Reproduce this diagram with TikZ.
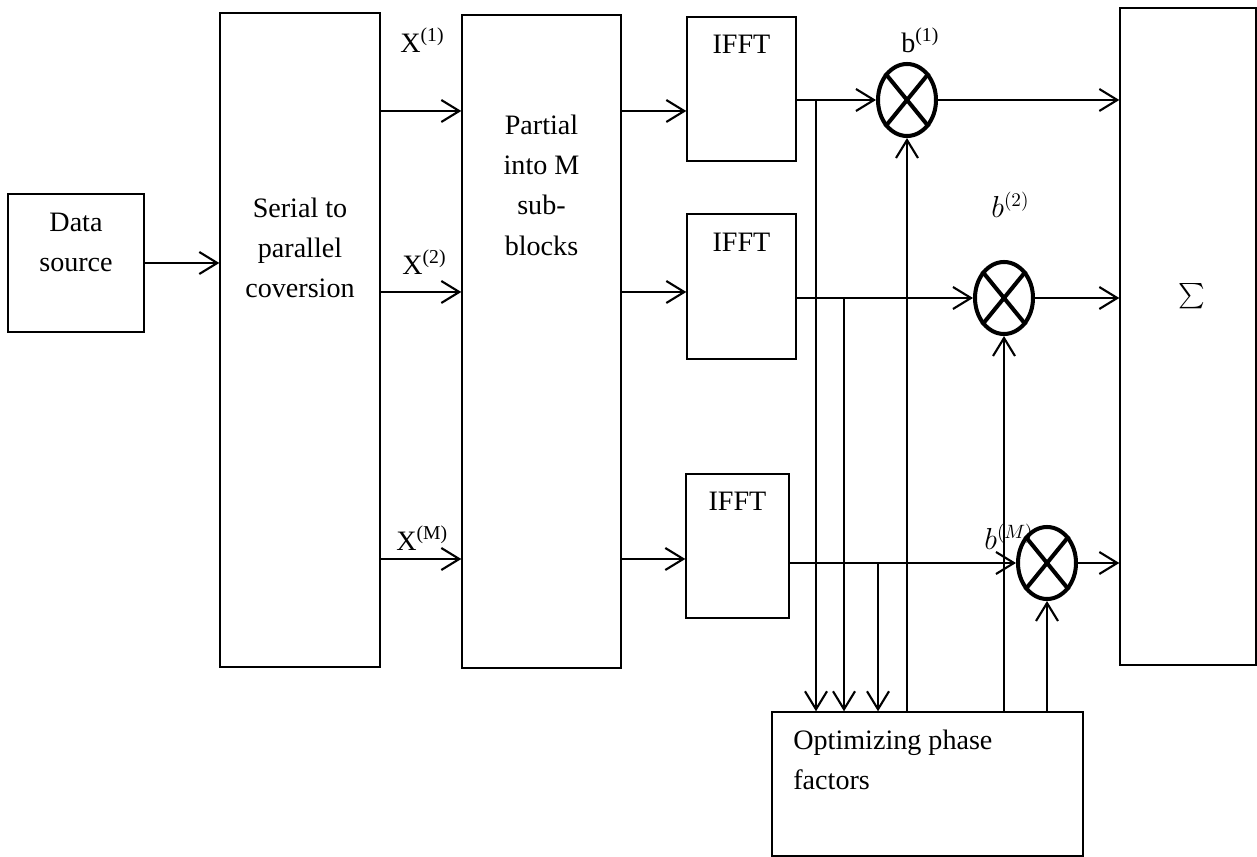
\documentclass[tikz,border=0pt]{standalone}
\usepackage{exscale}
\usepackage{fontspec}
\setmainfont{Liberation Serif}
\usetikzlibrary{arrows.meta,shapes.geometric}
\tikzset{
  blk/.style={draw, line width=0.8pt, inner sep=0pt},
  txt/.style={align=center, font=\fontsize{16}{22.8}\selectfont, inner sep=0pt},
  lbl/.style={font=\fontsize{16}{20}\selectfont, inner sep=0pt, anchor=base west},
  arr/.style={line width=1.2pt, -{Straight Barb[length=3.6mm,width=4.4mm,line width=1.2pt]}},
  mul/.style={ellipse, draw, line width=2.3pt, minimum width=1.16cm, minimum height=1.44cm, inner sep=0pt},
}
\begin{document}
\begin{tikzpicture}[x=0.02cm, y=-0.02cm]
\useasboundingbox (0,0) rectangle (1257,857);

% --- blocks ---
\node[blk, minimum width=2.72cm, minimum height=2.76cm] (ds) at (76,263) {};
\node[blk, minimum width=3.2cm, minimum height=13.08cm] (sp) at (300,340) {};
\node[blk, minimum width=3.18cm, minimum height=13.06cm] (pp) at (541.5,341.5) {};
\node[blk, minimum width=2.18cm, minimum height=2.88cm] (f1) at (741.5,89) {};
\node[blk, minimum width=2.18cm, minimum height=2.9cm] (f2) at (741.5,286.5) {};
\node[blk, minimum width=2.06cm, minimum height=2.88cm] (f3) at (737.5,546) {};
\node[blk, minimum width=6.22cm, minimum height=2.88cm] (op) at (927.5,784) {};
\node[blk, minimum width=2.72cm, minimum height=13.14cm] (sg) at (1188,336.5) {};

% texts in the blocks
\node[txt, anchor=north] at (76,213) {Data\\source};
\node[txt, anchor=north] at (300,198) {Serial to\\parallel\\coversion};
\node[txt, anchor=north] at (541.5,115) {Partial\\into M\\sub-\\blocks};
\node[txt, anchor=north] at (741.5,35) {IFFT};
\node[txt, anchor=north] at (741.5,233) {IFFT};
\node[txt, anchor=north] at (737.5,492) {IFFT};
\node[txt, anchor=north west, align=left] at (793,730) {Optimizing phase\\factors};
\node[txt, font=\fontsize{14}{14}\selectfont] at (1192,296) {$\sum$};

% --- multipliers ---
\foreach \n/\p in {m1/{907,100}, m2/{1004,298}, m3/{1047,563}}{
  \node[mul] (\n) at (\p) {};
  \draw[line width=2.3pt] (\n.north west) -- (\n.south east);
  \draw[line width=2.3pt] (\n.north east) -- (\n.south west);
}

% labels
\node[lbl] at (400,53) {X\textsuperscript{(1)}};
\node[lbl] at (402,275) {X\textsuperscript{(2)}};
\node[lbl] at (396,551) {X\textsuperscript{(M)}};
\node[lbl] at (901,53) {b\textsuperscript{(1)}};
\node[lbl] at (991,218) {$b^{(2)}$};
\node[lbl] at (984,550) {$b^{(M)}$};

% --- connectors ---
\coordinate (r1) at (0,111);
\coordinate (r2) at (0,292);
\coordinate (r3) at (0,559);
\draw[arr] (ds.east) -- (sp.west |- ds.east);
\foreach \r/\f in {r1/f1, r2/f2, r3/f3}{
  \draw[arr] (sp.east |- \r) -- (pp.west |- \r);
  \draw[arr] (pp.east |- \r) -- (\f.west |- \r);
}
\draw[arr] (f1.east |- m1) -- (m1.west);
\draw[arr] (f2.east |- m2) -- (m2.west);
\draw[arr] (f3.east |- m3) -- (m3.west);

% taps down to the optimizer
\coordinate (t1) at (816,0);
\coordinate (t2) at (844,0);
\coordinate (t3) at (878,0);
\draw[arr] (t1 |- m1) -- (t1 |- op.north);
\draw[arr] (t2 |- m2) -- (t2 |- op.north);
\draw[arr] (t3 |- m3) -- (t3 |- op.north);

% phase factors back up
\foreach \n in {m1,m2,m3}
  \draw[arr] (\n |- op.north) -- (\n.south);

% into the sum
\foreach \n in {m1,m2,m3}
  \draw[arr] (\n.east) -- (sg.west |- \n);
\end{tikzpicture}
\end{document}
